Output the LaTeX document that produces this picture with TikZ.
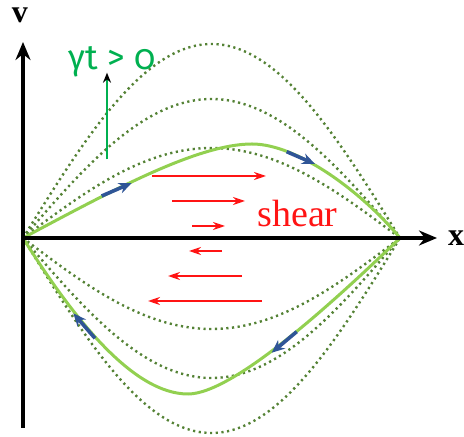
\documentclass[tikz,border=0pt]{standalone}
\usepackage{fontspec}
\setmainfont{Liberation Serif}
\newfontfamily\gammafont[Numbers=OldStyle]{Fira Sans}
\usetikzlibrary{arrows.meta}
\definecolor{dotgreen}{RGB}{84,130,53}
\definecolor{lensgreen}{RGB}{146,208,80}
\definecolor{labelgreen}{RGB}{0,176,80}
\definecolor{flowblue}{RGB}{47,85,151}
\definecolor{shearred}{RGB}{255,20,20}

\begin{document}
\begin{tikzpicture}[x=0.5pt,y=0.5pt,
    axis/.style={line width=2pt,-{Stealth[length=9pt,width=7.5pt]}},
    dotline/.style={dotgreen,line width=1.2pt,dash pattern=on 1.1pt off 1.75pt},
    lens/.style={lensgreen,line width=1.5pt},
    flow/.style={flowblue,line width=1.8pt,-{Stealth[length=6.5pt,width=5.5pt]}},
    shearflow/.style={shearred,line width=1pt,-{Stealth[length=6pt,width=4pt]}}]
        \useasboundingbox (-23,-199) rectangle (441,238);
        % dotted lenses
        \foreach \a in {194,139,90,-91,-140,-195}
            \draw[dotline] plot[domain=0:1,samples=80] ({377*\x},{\a*sin(180*\x)});
        % axes
        \coordinate (o) at (0,0);
        \coordinate (xe) at (414,0);
        \coordinate (yb) at (0,-190);
        \coordinate (ye) at (0,196);
        % sheared lens
        \coordinate (top) at (229,94);
        \coordinate (bot) at (165,-156);
        \coordinate (r) at (377,0);
        \draw[lens] (o) .. controls (90,48) and (175,94) .. (top)
            .. controls (275,94) and (340,45) .. (r);
        \draw[lens] (o) .. controls (50,-80) and (110,-156) .. (bot)
            .. controls (212,-156) and (320,-55) .. (r);
        \draw[axis] (o) -- (xe);
        \draw[axis] (yb) -- (ye);
        \node[anchor=base] (xl) at (433,-8) {\fontsize{16}{16}\selectfont\bfseries x};
        \node[anchor=base,inner sep=0pt] (vl) at (-3,215) {\fontsize{16}{16}\selectfont\bfseries v};
        % flow direction
        \draw[flow] (78.7,42) -- (108.7,55);
        \draw[flow] (263.7,86.3) -- (292,74);
        \draw[flow] (273.7,-93.7) -- (248.7,-114.7);
        \draw[flow] (72,-100.3) -- (50.3,-75.3);
        % shear arrows
        \draw[shearflow] (129,62) -- (243,62);
        \draw[shearflow] (149,37) -- (222,37);
        \draw[shearflow] (169,12) -- (202,12);
        \draw[shearflow] (199,-13) -- (166,-13);
        \draw[shearflow] (219,-38) -- (145,-38);
        \draw[shearflow] (239,-63) -- (125,-63);
        \node[anchor=base,shearred] (shear) at (274.5,11.3) {\fontsize{19}{19}\selectfont shear};
        % time arrow
        \coordinate (gb) at (84,78.7);
        \coordinate (gt) at (84,165.3);
        \draw[labelgreen,line width=1pt,-{Stealth[black,length=5pt,width=4pt]}] (gb) -- (gt);
        \node[anchor=base,labelgreen] (gamma) at (89,168) {\gammafont\fontsize{17.5}{17.5}\selectfont γt > 0};
    \end{tikzpicture}
\end{document}
